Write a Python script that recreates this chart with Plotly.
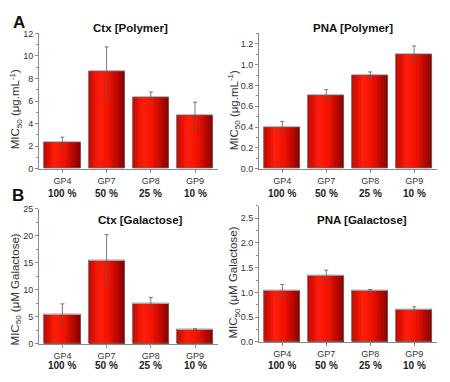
import plotly.graph_objects as go

# ---------------- data ----------------
categories = ["GP4", "GP7", "GP8", "GP9"]
percent_labels = ["100 %", "50 %", "25 %", "10 %"]

ctx_polymer = [2.3, 8.6, 6.3, 4.7]
ctx_polymer_err = [0.5, 2.2, 0.5, 1.2]

pna_polymer = [0.40, 0.70, 0.90, 1.10]
pna_polymer_err = [0.055, 0.06, 0.03, 0.08]

ctx_galactose = [5.4, 15.4, 7.5, 2.7]
ctx_galactose_err = [2.0, 4.8, 1.1, 0.1]

pna_galactose = [1.03, 1.34, 1.03, 0.66]
pna_galactose_err = [0.13, 0.11, 0.03, 0.05]

# the page body has an 8px margin, so the figure is drawn 8px smaller
OFF = 8
W, H = 450 - OFF, 382 - OFF
FONT = "Liberation Sans, Arial, sans-serif"


def px(x):
    return (x - OFF) / W


def py(y):
    return 1 - (y - OFF) / H


# gradient colour stops across a bar (left -> right)
stops = [(0.0, (200, 8, 0)), (0.3, (255, 30, 10)), (0.55, (242, 18, 0)), (1.0, (135, 0, 0))]


def grad(t):
    for (t0, c0), (t1, c1) in zip(stops[:-1], stops[1:]):
        if t0 <= t <= t1:
            f = (t - t0) / (t1 - t0)
            c = [round(a + (b - a) * f) for a, b in zip(c0, c1)]
            return f"rgb({c[0]},{c[1]},{c[2]})"
    return "rgb(135,0,0)"


panels = [
    dict(vals=ctx_polymer, err=ctx_polymer_err, title="Ctx [Polymer]",
         ytitle="MIC<sub>50</sub> (μg.mL<sup>-1</sup>)",
         xdom=(39, 218), ydom=(29, 168), yrange=[0, 12], dtick=2, minor=1, fmt="d",
         title_xy=(130, 23), ytitle_xy=(16, 107), pct_y=193),
    dict(vals=pna_polymer, err=pna_polymer_err, title="PNA [Polymer]",
         ytitle="MIC<sub>50</sub> (μg.mL<sup>-1</sup>)",
         xdom=(259, 437), ydom=(29, 168), yrange=[0, 1.3], dtick=0.2, minor=0.1, fmt=".1f",
         title_xy=(353, 23), ytitle_xy=(234, 108), pct_y=193),
    dict(vals=ctx_galactose, err=ctx_galactose_err, title="Ctx [Galactose]",
         ytitle="MIC<sub>50</sub> (μM Galactose)",
         xdom=(39, 218), ydom=(209, 348), yrange=[0, 25], dtick=5, minor=2.5, fmt="d",
         title_xy=(140, 221), ytitle_xy=(16, 292), pct_y=370),
    dict(vals=pna_galactose, err=pna_galactose_err, title="PNA [Galactose]",
         ytitle="MIC<sub>50</sub> (μM Galactose)",
         xdom=(259, 437), ydom=(206, 346), yrange=[0, 2.75], dtick=0.5, minor=0.25, fmt=".1f",
         title_xy=(362, 221), ytitle_xy=(234, 285), pct_y=370),
]

fig = go.Figure()
annotations = []
BW = 0.82
N = 16
layout_axes = {}

for i, p in enumerate(panels, start=1):
    xa = "x" if i == 1 else f"x{i}"
    ya = "y" if i == 1 else f"y{i}"
    # gradient strips
    for k in range(N):
        t = (k + 0.5) / N
        fig.add_trace(go.Bar(
            x=categories, y=p["vals"], xaxis=xa, yaxis=ya,
            width=BW / N + 0.004, offset=-BW / 2 + k * BW / N,
            marker=dict(color=grad(t), line=dict(width=0)),
            showlegend=False, hoverinfo="skip"))
    # outline + error bars
    fig.add_trace(go.Bar(
        x=categories, y=p["vals"], xaxis=xa, yaxis=ya,
        width=BW, offset=-BW / 2,
        marker=dict(color="rgba(0,0,0,0)", line=dict(color="#6a6a6a", width=0.9)),
        error_y=dict(type="data", array=p["err"], color="#5a5a5a", thickness=0.8, width=2),
        showlegend=False))

    xkey = "xaxis" if i == 1 else f"xaxis{i}"
    ykey = "yaxis" if i == 1 else f"yaxis{i}"
    layout_axes[xkey] = dict(
        domain=[px(p["xdom"][0]), px(p["xdom"][1])], anchor=ya,
        type="category", range=[-0.53, 3.52],
        showline=True, linecolor="#8a8a8a", linewidth=1,
        ticks="outside", ticklen=3, tickcolor="#8a8a8a",
        tickfont=dict(family=FONT, size=9, color="#333333"),
        showgrid=False, zeroline=False, fixedrange=True)
    layout_axes[ykey] = dict(
        domain=[py(p["ydom"][1]), py(p["ydom"][0])], anchor=xa,
        range=p["yrange"], dtick=p["dtick"], tickformat=p["fmt"],
        showline=True, linecolor="#8a8a8a", linewidth=1,
        ticks="outside", ticklen=3, tickcolor="#8a8a8a",
        minor=dict(dtick=p["minor"], ticks="outside", ticklen=2, tickcolor="#8a8a8a"),
        tickfont=dict(family=FONT, size=9, color="#333333"),
        showgrid=False, zeroline=False, fixedrange=True)

    annotations.append(dict(
        text=f"<b>{p['title']}</b>", xref="paper", yref="paper",
        x=px(p["title_xy"][0]), y=py(p["title_xy"][1]),
        xanchor="center", yanchor="middle", showarrow=False,
        font=dict(family=FONT, size=11.5, color="#111111")))
    annotations.append(dict(
        text=p["ytitle"], xref="paper", yref="paper",
        x=px(p["ytitle_xy"][0]), y=py(p["ytitle_xy"][1]),
        xanchor="center", yanchor="middle", showarrow=False, textangle=-90,
        font=dict(family=FONT, size=11.5, color="#333333")))
    for c, pl in zip(categories, percent_labels):
        annotations.append(dict(
            text=f"<b>{pl}</b>", xref=xa, yref="paper",
            x=c, y=py(p["pct_y"]), xanchor="center", yanchor="middle",
            showarrow=False, font=dict(family=FONT, size=10, color="#222222")))

annotations.append(dict(text="<b>A</b>", xref="paper", yref="paper", x=px(19), y=py(18),
                        xanchor="center", yanchor="middle", showarrow=False,
                        font=dict(family=FONT, size=17, color="#111111")))
annotations.append(dict(text="<b>B</b>", xref="paper", yref="paper", x=px(18), y=py(196),
                        xanchor="center", yanchor="middle", showarrow=False,
                        font=dict(family=FONT, size=17, color="#111111")))

fig.update_layout(
    width=W, height=H, margin=dict(l=0, r=0, t=0, b=0),
    paper_bgcolor="white", plot_bgcolor="white",
    barmode="overlay", bargap=0, showlegend=False,
    annotations=annotations, **layout_axes)

fig.write_html("out.html")
